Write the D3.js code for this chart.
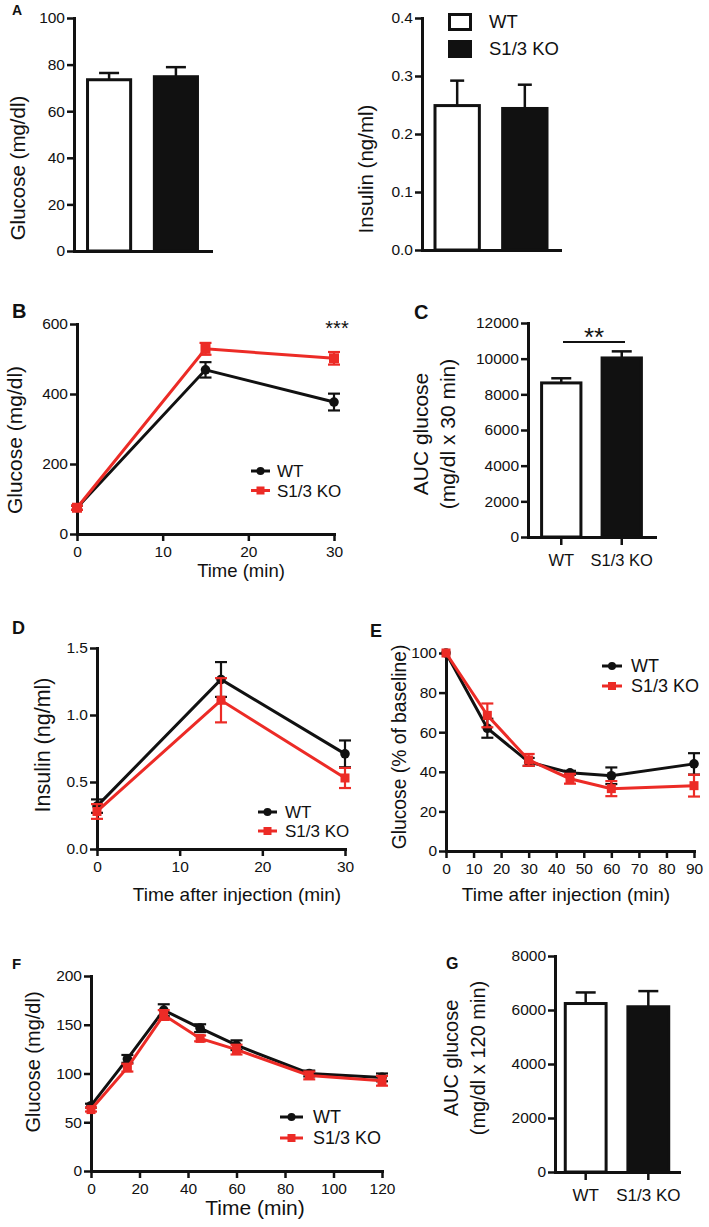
<!DOCTYPE html>
<html><head><meta charset="utf-8">
<script src="https://cdn.jsdelivr.net/npm/d3@7"></script>
<style>
body{margin:0;background:#fff;}
svg text{font-family:"Liberation Sans", Arial, sans-serif; fill:#111;}
</style></head><body>
<svg id="c" width="709" height="1227"></svg>
<script>
// ---------------- DATA ----------------
const groups = ["WT", "S1/3 KO"];
// A: fasting values
const fastGlucose = [73.5, 74.8];
const fastGlucoseErr = [2.9, 4.1];
const fastInsulin = [0.249, 0.244];
const fastInsulinErr = [0.043, 0.041];
const ticksA1 = [0, 20, 40, 60, 80, 100];
const ticksA2 = [0, 0.1, 0.2, 0.3, 0.4];
// B: GTT
const gttTime = [0, 15, 30];
const gttWT = [75, 469, 377];
const gttWTErr = [6, 22, 24];
const gttKO = [75, 529, 502];
const gttKOErr = [6, 17, 18];
const ticksBy = [0, 200, 400, 600];
const ticksBx = [0, 10, 20, 30];
// C: AUC GTT
const aucGTT = [8640, 10040];
const aucGTTErr = [260, 370];
const ticksC = [0, 2000, 4000, 6000, 8000, 10000, 12000];
// D: insulin secretion
const insTime = [0, 15, 30];
const insWT = [0.32, 1.265, 0.71];
const insWTErr = [0.05, 0.13, 0.10];
const insKO = [0.28, 1.11, 0.53];
const insKOErr = [0.055, 0.165, 0.075];
const ticksDy = [0, 0.5, 1.0, 1.5];
const ticksDx = [0, 10, 20, 30];
// E: ITT
const ittTime = [0, 15, 30, 45, 60, 90];
const ittWT = [100, 62, 45, 39.5, 38, 44];
const ittWTErr = [0, 4.8, 2, 1, 4.2, 5.4];
const ittKO = [100, 68.5, 46, 36.5, 31.5, 33];
const ittKOErr = [0, 6, 3, 2.5, 3.8, 5.5];
const ticksEy = [0, 20, 40, 60, 80, 100];
const ticksEx = [0, 10, 20, 30, 40, 50, 60, 70, 80, 90];
// F: PTT
const pttTime = [0, 15, 30, 45, 60, 90, 120];
const pttWT = [67, 115, 165, 146.5, 129, 100, 96];
const pttWTErr = [2, 4, 6, 4, 5, 3, 4];
const pttKO = [63, 106, 160, 136, 124.5, 98, 92.5];
const pttKOErr = [2, 4, 5, 3, 5, 4, 5];
const ticksFy = [0, 50, 100, 150, 200];
const ticksFx = [0, 20, 40, 60, 80, 100, 120];
// G: AUC PTT
const aucPTT = [6240, 6120];
const aucPTTErr = [410, 580];
const ticksG = [0, 2000, 4000, 6000, 8000];

// ---------------- HELPERS ----------------
const svg = d3.select("#c");
const RED = "#ec2b26";
const INK = "#111";
const FONT = '"Liberation Sans", Arial, sans-serif';

function styleAxis(g, fs) {
  g.select(".domain").attr("stroke", INK).attr("stroke-width", 3).attr("stroke-linecap", "square");
  g.selectAll(".tick line").attr("stroke", INK).attr("stroke-width", 2.5);
  g.selectAll(".tick text").attr("font-size", fs).attr("fill", INK).attr("font-family", FONT);
}
function yAxis(y, x0, ticks, fmt, fs) {
  const g = svg.append("g").attr("transform", `translate(${x0},0)`)
    .call(d3.axisLeft(y).tickValues(ticks).tickFormat(fmt).tickSize(7).tickSizeOuter(0).tickPadding(2));
  styleAxis(g, fs);
  return g;
}
function xAxisLinear(x, y0, ticks, fs) {
  const g = svg.append("g").attr("transform", `translate(0,${y0})`)
    .call(d3.axisBottom(x).tickValues(ticks).tickFormat(d3.format("d")).tickSize(7).tickSizeOuter(0).tickPadding(5));
  styleAxis(g, fs);
  return g;
}
function label(txt, x, y, fs, bold) {
  svg.append("text").attr("x", x).attr("y", y).attr("font-size", fs)
    .attr("font-weight", bold ? "bold" : "normal").text(txt);
}
function centered(txt, x, y, fs) {
  svg.append("text").attr("x", x).attr("y", y).attr("font-size", fs)
    .attr("text-anchor", "middle").text(txt);
}
function vlabel(lines, xs, cy, fs) {
  lines.forEach((t, i) => {
    svg.append("text").attr("transform", `translate(${xs[i]},${cy}) rotate(-90)`)
      .attr("font-size", fs).attr("text-anchor", "middle").text(t);
  });
}
function barPanel(cfg) {
  const y = d3.scaleLinear().domain(cfg.ydom).range(cfg.yrange);
  const xb = d3.scaleBand().domain(groups).range(cfg.xrange).paddingInner(cfg.pi).paddingOuter(cfg.po);
  const y0 = y(0);
  const g = svg.append("g");
  groups.forEach((k, i) => {
    const cx = xb(k) + xb.bandwidth() / 2;
    const top = y(cfg.vals[i] + cfg.errs[i]);
    g.append("line").attr("x1", cx).attr("x2", cx).attr("y1", y(cfg.vals[i])).attr("y2", top)
      .attr("stroke", INK).attr("stroke-width", 2.5);
    g.append("line").attr("x1", cx - cfg.cap / 2).attr("x2", cx + cfg.cap / 2).attr("y1", top).attr("y2", top)
      .attr("stroke", INK).attr("stroke-width", 2.5);
  });
  g.selectAll("rect").data(cfg.vals).join("rect")
    .attr("x", (d, i) => xb(groups[i]) + 1.5)
    .attr("width", xb.bandwidth() - 3)
    .attr("y", d => y(d))
    .attr("height", d => y0 - y(d))
    .attr("fill", (d, i) => i === 0 ? "#fff" : INK)
    .attr("stroke", INK).attr("stroke-width", 3);
  const xg = svg.append("g").attr("transform", `translate(0,${y0})`)
    .call(d3.axisBottom(xb).tickSize(cfg.xticks ? 8 : 0).tickSizeOuter(0).tickPadding(9));
  styleAxis(xg, cfg.catfs || 16.5);
  if (!cfg.xticks) xg.selectAll(".tick").remove();
  yAxis(y, cfg.xrange[0], cfg.yticks, cfg.fmt, cfg.fs);
  return { y, xb };
}
function linePanel(cfg) {
  const x = d3.scaleLinear().domain(cfg.xdom).range(cfg.xrange);
  const y = d3.scaleLinear().domain(cfg.ydom).range(cfg.yrange);
  xAxisLinear(x, y(0), cfg.xticks, cfg.fs);
  yAxis(y, x(0), cfg.yticks, cfg.fmt, cfg.fs);
  const line = d3.line().x(d => x(d[0])).y(d => y(d[1]));
  const series = [
    { v: cfg.wt, e: cfg.wtErr, c: INK, shape: "circle" },
    { v: cfg.ko, e: cfg.koErr, c: RED, shape: "square" }
  ];
  series.forEach(s => {
    const g = svg.append("g");
    const pts = cfg.t.map((t, i) => [t, s.v[i], s.e[i]]);
    pts.forEach(p => {
      if (p[2] <= 0) return;
      const cx = x(p[0]), a = y(p[1] + p[2]), b = y(p[1] - p[2]);
      g.append("line").attr("x1", cx).attr("x2", cx).attr("y1", a).attr("y2", b).attr("stroke", s.c).attr("stroke-width", 2.2);
      [a, b].forEach(yy => g.append("line").attr("x1", cx - cfg.cap / 2).attr("x2", cx + cfg.cap / 2)
        .attr("y1", yy).attr("y2", yy).attr("stroke", s.c).attr("stroke-width", 2.2));
    });
    g.append("path").attr("d", line(pts)).attr("fill", "none").attr("stroke", s.c).attr("stroke-width", 3);
    pts.forEach(p => marker(g, s.shape, x(p[0]), y(p[1]), s.c, cfg.msize));
  });
  const L = cfg.legend;
  [["WT", INK, "circle", L.y1], ["S1/3 KO", RED, "square", L.y2]].forEach(([t, c, sh, yy]) => {
    svg.append("line").attr("x1", L.x0).attr("x2", L.x1).attr("y1", yy).attr("y2", yy).attr("stroke", c).attr("stroke-width", 3);
    marker(svg, sh, (L.x0 + L.x1) / 2, yy, c, sh === "circle" ? 4 : 8);
    svg.append("text").attr("x", L.tx).attr("y", yy + 0.36 * L.fs).attr("font-size", L.fs).text(t);
  });
  return { x, y };
}
function marker(g, shape, cx, cy, c, s) {
  if (shape === "circle") {
    g.append("circle").attr("cx", cx).attr("cy", cy).attr("r", s > 6 ? 4.8 : s).attr("fill", c);
  } else {
    g.append("rect").attr("x", cx - s / 2).attr("y", cy - s / 2).attr("width", s).attr("height", s).attr("fill", c);
  }
}
const f0 = d3.format("d"), f1 = d3.format(".1f");

// ---------------- PANEL A ----------------
label("A", 12, 15, 14, true);
barPanel({ ydom: [0, 100], yrange: [251, 18], xrange: [74, 211], pi: 0.31, po: 0.18,
  vals: fastGlucose, errs: fastGlucoseErr, yticks: ticksA1, fmt: f0, fs: 15.5, cap: 20, xticks: false });
vlabel(["Glucose (mg/dl)"], [25], 168, 20.5);

barPanel({ ydom: [0, 0.4], yrange: [250, 18], xrange: [422, 560], pi: 0.3, po: 0.17,
  vals: fastInsulin, errs: fastInsulinErr, yticks: ticksA2, fmt: f1, fs: 15.5, cap: 14, xticks: false });
vlabel(["Insulin (ng/ml)"], [373], 169, 20.5);
[[groups[0], "#fff", 13], [groups[1], INK, 40]].forEach(([t, f, yy]) => {
  svg.append("rect").attr("x", 449.5).attr("y", yy + 1.5).attr("width", 21).attr("height", 15)
    .attr("fill", f).attr("stroke", INK).attr("stroke-width", 3);
  svg.append("text").attr("x", 489).attr("y", yy + 15).attr("font-size", 18.5).text(t);
});

// ---------------- PANEL B ----------------
label("B", 12, 318, 20, true);
linePanel({ xdom: [0, 30], xrange: [77, 334], ydom: [0, 600], yrange: [534, 324],
  xticks: ticksBx, yticks: ticksBy, fmt: f0, fs: 15.5, t: gttTime,
  wt: gttWT, wtErr: gttWTErr, ko: gttKO, koErr: gttKOErr, cap: 12, msize: 10,
  legend: { x0: 251, x1: 270, tx: 277, y1: 471, y2: 490.5, fs: 17 } });
centered("***", 337, 335, 20);
centered("Time (min)", 241, 577, 18.5);
vlabel(["Glucose (mg/dl)"], [22], 440, 21);

// ---------------- PANEL C ----------------
label("C", 414, 319, 20, true);
barPanel({ ydom: [0, 12000], yrange: [537, 323], xrange: [528, 655], pi: 0.3, po: 0.2,
  vals: aucGTT, errs: aucGTTErr, yticks: ticksC, fmt: f0, fs: 15.5, cap: 20, xticks: true, catfs: 16.5 });
svg.append("line").attr("x1", 563).attr("x2", 625).attr("y1", 342).attr("y2", 342).attr("stroke", INK).attr("stroke-width", 2);
centered("**", 594, 346, 26);
vlabel(["AUC glucose", "(mg/dl x 30 min)"], [428, 455], 434, 21);

// ---------------- PANEL D ----------------
label("D", 12, 634, 18, true);
linePanel({ xdom: [0, 30], xrange: [97, 345], ydom: [0, 1.5], yrange: [849, 648],
  xticks: ticksDx, yticks: ticksDy, fmt: f1, fs: 15.5, t: insTime,
  wt: insWT, wtErr: insWTErr, ko: insKO, koErr: insKOErr, cap: 12, msize: 9,
  legend: { x0: 258, x1: 277, tx: 285, y1: 812, y2: 831, fs: 17 } });
centered("Time after injection (min)", 237, 901, 19);
vlabel(["Insulin (ng/ml)"], [50], 745, 21.5);

// ---------------- PANEL E ----------------
label("E", 370, 637, 18, true);
linePanel({ xdom: [0, 90], xrange: [446, 694], ydom: [0, 100], yrange: [851, 653],
  xticks: ticksEx, yticks: ticksEy, fmt: f0, fs: 15.5, t: ittTime,
  wt: ittWT, wtErr: ittWTErr, ko: ittKO, koErr: ittKOErr, cap: 12, msize: 9,
  legend: { x0: 602, x1: 622, tx: 631, y1: 666, y2: 686, fs: 18 } });
centered("Time after injection (min)", 566, 901, 19);
vlabel(["Glucose (% of baseline)"], [406], 747, 19.3);

// ---------------- PANEL F ----------------
label("F", 12, 969, 15, true);
linePanel({ xdom: [0, 120], xrange: [91, 382], ydom: [0, 200], yrange: [1171, 976],
  xticks: ticksFx, yticks: ticksFy, fmt: f0, fs: 15.5, t: pttTime,
  wt: pttWT, wtErr: pttWTErr, ko: pttKO, koErr: pttKOErr, cap: 12, msize: 9,
  legend: { x0: 280, x1: 303, tx: 313, y1: 1117, y2: 1138, fs: 18 } });
centered("Time (min)", 255, 1215, 21);
vlabel(["Glucose (mg/dl)"], [40], 1062, 20);

// ---------------- PANEL G ----------------
label("G", 446, 969, 16, true);
barPanel({ ydom: [0, 8000], yrange: [1172, 956], xrange: [555, 679], pi: 0.3, po: 0.14,
  vals: aucPTT, errs: aucPTTErr, yticks: ticksG, fmt: f0, fs: 15.5, cap: 20, xticks: true, catfs: 17 });
vlabel(["AUC glucose", "(mg/dl x 120 min)"], [458, 485], 1058, 20);
</script>
</body></html>
